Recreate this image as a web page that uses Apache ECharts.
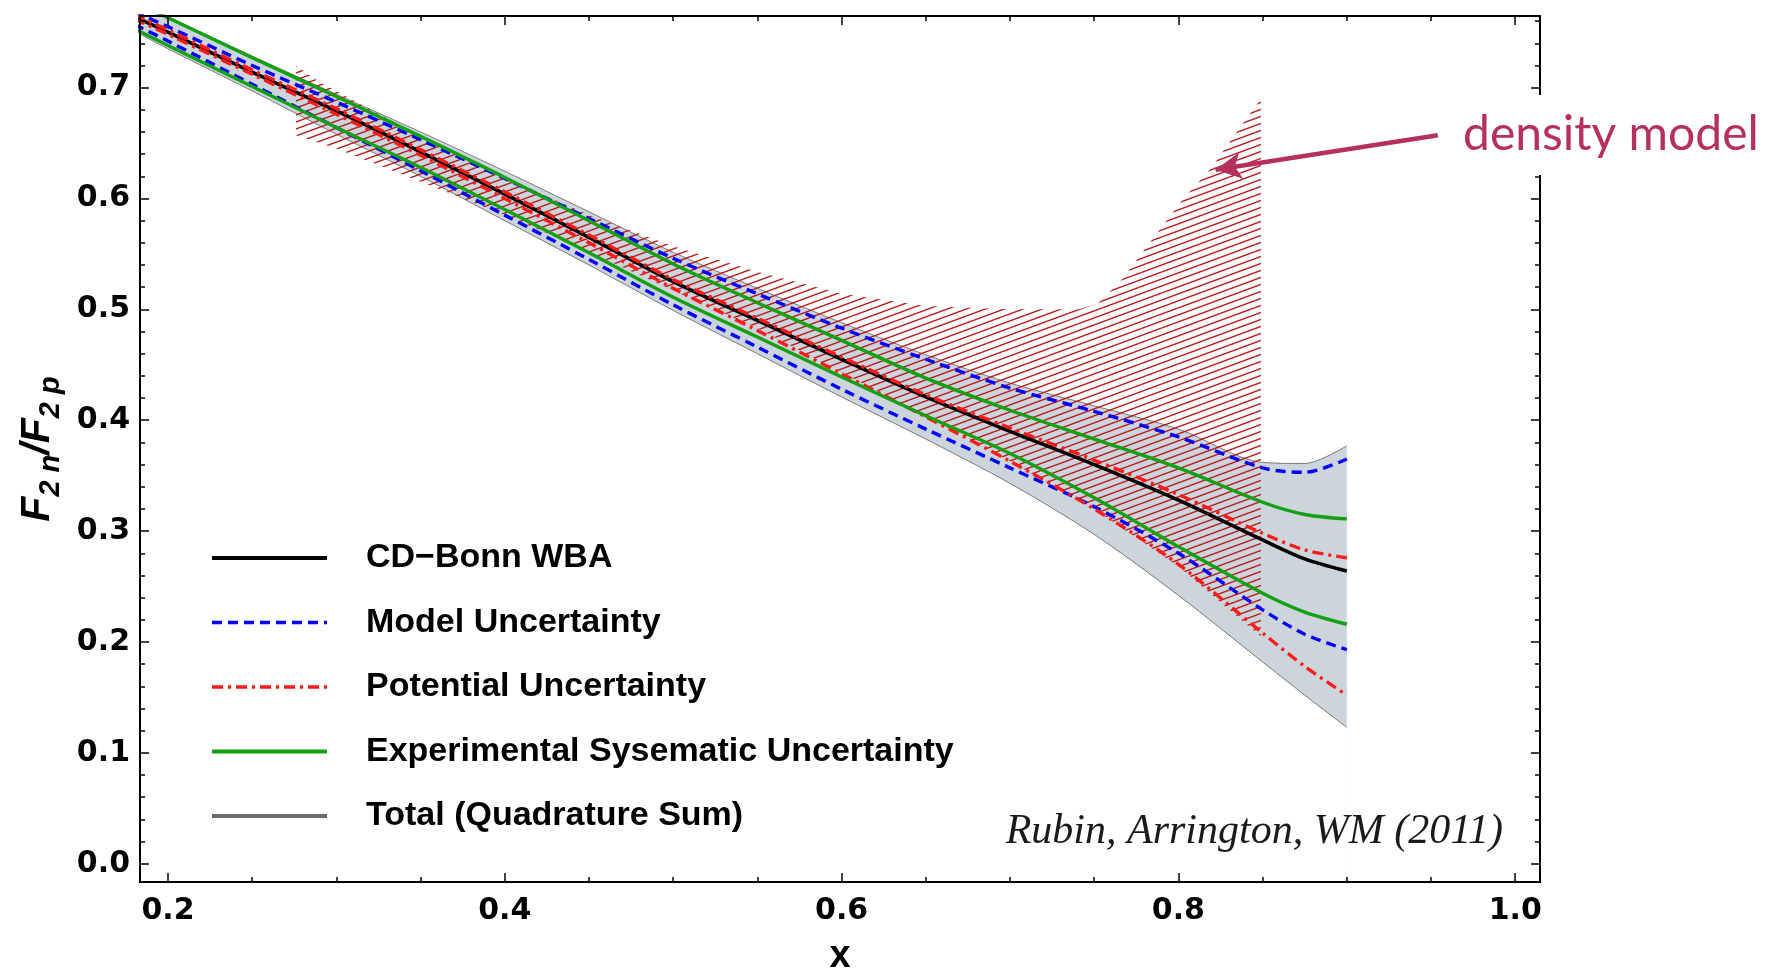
<!DOCTYPE html>
<html><head><meta charset="utf-8">
<script src="https://cdn.jsdelivr.net/npm/echarts@6/dist/echarts.min.js"></script>
<style>html,body{margin:0;padding:0;background:#fff;}#chart{width:1768px;height:972px;}</style>
</head><body><div id="chart"></div>
<script>
// ---- data ----
const xs             = [0.18, 0.2, 0.25, 0.3, 0.35, 0.4, 0.45, 0.5, 0.55, 0.6, 0.65, 0.7, 0.75, 0.8, 0.85, 0.875, 0.9];
const central        = [0.764, 0.750, 0.714, 0.679, 0.642, 0.604, 0.565, 0.525, 0.490, 0.455, 0.421, 0.390, 0.360, 0.328, 0.292, 0.275, 0.264];
const modelUpper     = [0.768, 0.755, 0.720, 0.687, 0.653, 0.618, 0.582, 0.546, 0.514, 0.483, 0.455, 0.429, 0.408, 0.385, 0.357, 0.353, 0.365];
const modelLower     = [0.757, 0.742, 0.703, 0.664, 0.625, 0.585, 0.545, 0.504, 0.466, 0.428, 0.392, 0.357, 0.322, 0.280, 0.229, 0.207, 0.193];
const potentialUpper = [0.766, 0.752, 0.716, 0.681, 0.644, 0.606, 0.567, 0.527, 0.492, 0.457, 0.423, 0.393, 0.364, 0.333, 0.298, 0.283, 0.276];
const potentialLower = [0.762, 0.748, 0.712, 0.676, 0.639, 0.600, 0.560, 0.519, 0.481, 0.442, 0.403, 0.363, 0.320, 0.270, 0.208, 0.178, 0.152];
const expUpper       = [0.777, 0.763, 0.727, 0.692, 0.656, 0.619, 0.580, 0.541, 0.506, 0.472, 0.438, 0.409, 0.383, 0.357, 0.326, 0.315, 0.311];
const expLower       = [0.753, 0.738, 0.701, 0.664, 0.628, 0.590, 0.551, 0.511, 0.475, 0.439, 0.404, 0.370, 0.330, 0.286, 0.244, 0.227, 0.216];
const totalUpper     = [0.778, 0.764, 0.7285, 0.694, 0.660, 0.6246, 0.588, 0.5515, 0.519, 0.488, 0.459, 0.4335, 0.413, 0.392, 0.362, 0.361, 0.377];
const totalLower     = [0.751, 0.735, 0.697, 0.658, 0.620, 0.580, 0.540, 0.499, 0.460, 0.421, 0.383, 0.343, 0.297, 0.242, 0.182, 0.152, 0.123];

const hatchTopX    = [0.276, 0.29, 0.35, 0.40, 0.45, 0.50, 0.55, 0.60, 0.65, 0.70, 0.741, 0.752, 0.766, 0.784, 0.802, 0.820, 0.834, 0.849];
const hatchTopY    = [0.720, 0.705, 0.656, 0.619, 0.585, 0.557, 0.534, 0.514, 0.503, 0.500, 0.500, 0.505, 0.526, 0.562, 0.598, 0.6285, 0.6586, 0.690];
const hatchBottomX = [0.276, 0.30, 0.35, 0.40, 0.45, 0.50, 0.55, 0.60, 0.65, 0.70, 0.75, 0.80, 0.849];
const hatchBottomY = [0.657, 0.645, 0.615, 0.585, 0.552, 0.517, 0.483, 0.443, 0.404, 0.363, 0.320, 0.268, 0.205];

const xTickValues = [0.2, 0.4, 0.6, 0.8, 1.0];
const xTickLabels = ['0.2', '0.4', '0.6', '0.8', '1.0'];
const xMinorTicks = [0.2, 0.25, 0.3, 0.35, 0.4, 0.45, 0.5, 0.55, 0.6, 0.65, 0.7, 0.75, 0.8, 0.85, 0.9, 0.95, 1.0];
const yTickValues = [0.0, 0.1, 0.2, 0.3, 0.4, 0.5, 0.6, 0.7];
const yTickLabels = ['0.0', '0.1', '0.2', '0.3', '0.4', '0.5', '0.6', '0.7'];
const yMinorTicks = [0, 0.02, 0.04, 0.06, 0.08, 0.1, 0.12, 0.14, 0.16, 0.18, 0.2, 0.22, 0.24, 0.26, 0.28, 0.3, 0.32, 0.34, 0.36, 0.38, 0.4, 0.42, 0.44, 0.46, 0.48, 0.5, 0.52, 0.54, 0.56, 0.58, 0.6, 0.62, 0.64, 0.66, 0.68, 0.7, 0.72, 0.74, 0.76];

const names = {
  central: 'CD\u2212Bonn WBA',
  model: 'Model Uncertainty',
  potential: 'Potential Uncertainty',
  exp: 'Experimental Sysematic Uncertainty',
  total: 'Total (Quadrature Sum)'
};
const arrowFrom = [0.954, 0.657];
const arrowTo = [0.822, 0.626];

// ---- layout / style ----
const X_MIN = 0.1834, X_MAX = 1.0147, Y_MIN = -0.0165, Y_MAX = 0.7646;
const C_BLUE = '#0000ff', C_RED = '#ff1a1a', C_GREEN = '#13a013', C_BLACK = '#000000';
const C_BAND = '#ccd4dc', C_BAND_EDGE = '#7a7a7a', C_HATCH = '#b91c1c', C_NOTE = '#b5305e';

function pairs(ys) { return xs.map((x, i) => [x, ys[i]]); }
function labelOf(values, labels) {
  return v => { const i = values.findIndex(t => Math.abs(t - v) < 1e-9); return i >= 0 ? labels[i] : ''; };
}
function hatchCanvas() {
  const W = 19, H = 7;
  const c = document.createElement('canvas'); c.width = W; c.height = H;
  const g = c.getContext('2d');
  g.strokeStyle = C_HATCH; g.lineWidth = 1.4;
  for (let k = -1; k <= 1; k++) { g.beginPath(); g.moveTo(0, H + k * H); g.lineTo(W, k * H); g.stroke(); }
  return c;
}
const hatchImg = hatchCanvas();

const tickFont = { fontFamily: 'DejaVu Sans', fontWeight: 'bold', fontSize: 30, color: '#000' };
function xAx(pos, values, len, withLabel) {
  return {
    type: 'value', position: pos, min: X_MIN, max: X_MAX, z: 5,
    axisLine: { show: false, onZero: false }, splitLine: { show: false },
    axisTick: { show: true, inside: true, length: len, customValues: values, lineStyle: { color: '#000', width: 1.5 } },
    axisLabel: withLabel ? Object.assign({ show: true, customValues: xTickValues, margin: 14, formatter: labelOf(xTickValues, xTickLabels) }, tickFont) : { show: false }
  };
}
function yAx(pos, values, len, withLabel) {
  return {
    type: 'value', position: pos, min: Y_MIN, max: Y_MAX, z: 5,
    axisLine: { show: false, onZero: false }, splitLine: { show: false },
    axisTick: { show: true, inside: true, length: len, customValues: values, lineStyle: { color: '#000', width: 1.5 } },
    axisLabel: withLabel ? Object.assign({ show: true, customValues: yTickValues, margin: 10, formatter: labelOf(yTickValues, yTickLabels) }, tickFont) : { show: false }
  };
}

const xAxes = [xAx('bottom', xTickValues, 9, true), xAx('bottom', xMinorTicks, 5, false), xAx('top', xTickValues, 9, false), xAx('top', xMinorTicks, 5, false)];
Object.assign(xAxes[0], { name: 'x', nameLocation: 'middle', nameGap: 56,
  nameTextStyle: { fontFamily: 'Liberation Sans', fontWeight: 'bold', fontSize: 38, color: '#000' } });
const yAxes = [yAx('left', yTickValues, 9, true), yAx('left', yMinorTicks, 5, false), yAx('right', yTickValues, 9, false), yAx('right', yMinorTicks, 5, false)];
Object.assign(yAxes[0], { name: '{f|F}{s|2 n}{f|/F}{s|2 p}', nameLocation: 'middle', nameRotate: 90, nameGap: 75,
  nameTextStyle: { rich: {
    f: { fontFamily: 'Liberation Sans', fontStyle: 'italic', fontWeight: 'bold', fontSize: 41, lineHeight: 54, verticalAlign: 'middle', color: '#000' },
    s: { fontFamily: 'Liberation Sans', fontStyle: 'italic', fontWeight: 'bold', fontSize: 29, verticalAlign: 'bottom', color: '#000' }
  } } });

function lineSeries(name, ys, color, width, type, extra) {
  return Object.assign({
    type: 'line', name: name, data: pairs(ys), xAxisIndex: 0, yAxisIndex: 0, z: 4,
    smooth: 0.3, symbol: 'none', silent: true, clip: true,
    lineStyle: { color: color, width: width, type: type }, itemStyle: { color: color }
  }, extra || {});
}

const series = [
  lineSeries(names.total, totalUpper, C_BAND_EDGE, 1, 'solid', { z: 2, areaStyle: { color: C_BAND, opacity: 1, origin: 'start' } }),
  lineSeries(names.total, totalLower, C_BAND_EDGE, 1, 'solid', { z: 2, areaStyle: { color: '#ffffff', opacity: 1, origin: 'start' } }),
  {
    type: 'custom', name: 'density model', coordinateSystem: 'cartesian2d', xAxisIndex: 0, yAxisIndex: 0,
    data: [[hatchTopX[0], hatchTopY[0]]], silent: true, clip: true, z: 3,
    renderItem: function (params, api) {
      const pts = [];
      hatchTopX.forEach((x, i) => pts.push(api.coord([x, hatchTopY[i]])));
      for (let i = hatchBottomX.length - 1; i >= 0; i--) pts.push(api.coord([hatchBottomX[i], hatchBottomY[i]]));
      return { type: 'polygon', shape: { points: pts }, style: { fill: { image: hatchImg, repeat: 'repeat' }, stroke: null } };
    }
  },
  lineSeries(names.central, central, C_BLACK, 3.6, 'solid', {
    markLine: {
      silent: true, symbol: ['none', 'arrow'], symbolSize: [20, 26], label: { show: false },
      lineStyle: { color: C_NOTE, width: 4.5, type: 'solid' },
      data: [[{ coord: arrowFrom }, { coord: arrowTo }]]
    }
  }),
  lineSeries(names.model, modelUpper, C_BLUE, 3.4, [10, 6]),
  lineSeries(names.model, modelLower, C_BLUE, 3.4, [10, 6]),
  lineSeries(names.potential, potentialUpper, C_RED, 3.4, [11, 5, 3, 5]),
  lineSeries(names.potential, potentialLower, C_RED, 3.4, [11, 5, 3, 5]),
  lineSeries(names.exp, expUpper, C_GREEN, 3.4, 'solid'),
  lineSeries(names.exp, expLower, C_GREEN, 3.4, 'solid')
];

const chart = echarts.init(document.getElementById('chart'), null, { renderer: 'canvas' });
chart.setOption({
  animation: false,
  backgroundColor: '#ffffff',
  grid: { left: 140, right: 228, top: 16, bottom: 90, show: true, borderColor: '#000', borderWidth: 2,
          backgroundColor: 'transparent', z: 10, containLabel: false, outerBoundsMode: 'none' },
  xAxis: xAxes,
  yAxis: yAxes,
  legend: {
    orient: 'vertical', left: 210, top: 538, padding: 0, itemWidth: 115, itemHeight: 4, itemGap: 24.5,
    selectedMode: false, z: 12, itemStyle: { opacity: 0 },
    textStyle: { fontFamily: 'Liberation Sans', fontWeight: 'bold', fontSize: 34, color: '#000', lineHeight: 40, padding: [0, 0, 0, 34] },
    data: [
      { name: names.central, lineStyle: { width: 4 } },
      { name: names.model, lineStyle: { width: 3.4 } },
      { name: names.potential, lineStyle: { width: 3.4 } },
      { name: names.exp, lineStyle: { width: 4 } },
      { name: names.total, lineStyle: { width: 4, color: '#6a6a6a' } }
    ]
  },
  graphic: [
    { type: 'text', right: 265, top: 811, z: 20, silent: true,
      style: { text: 'Rubin, Arrington, WM (2011)', font: 'italic 42px "Liberation Serif"', fill: '#1a1a1a' } },
    { type: 'text', left: 1455, top: 95, z: 30, silent: true,
      style: { text: 'density model', font: '48px Lato', fill: C_NOTE, backgroundColor: '#ffffff', padding: [16, 8, 16, 8] } }
  ],
  series: series
});
</script>
</body></html>
